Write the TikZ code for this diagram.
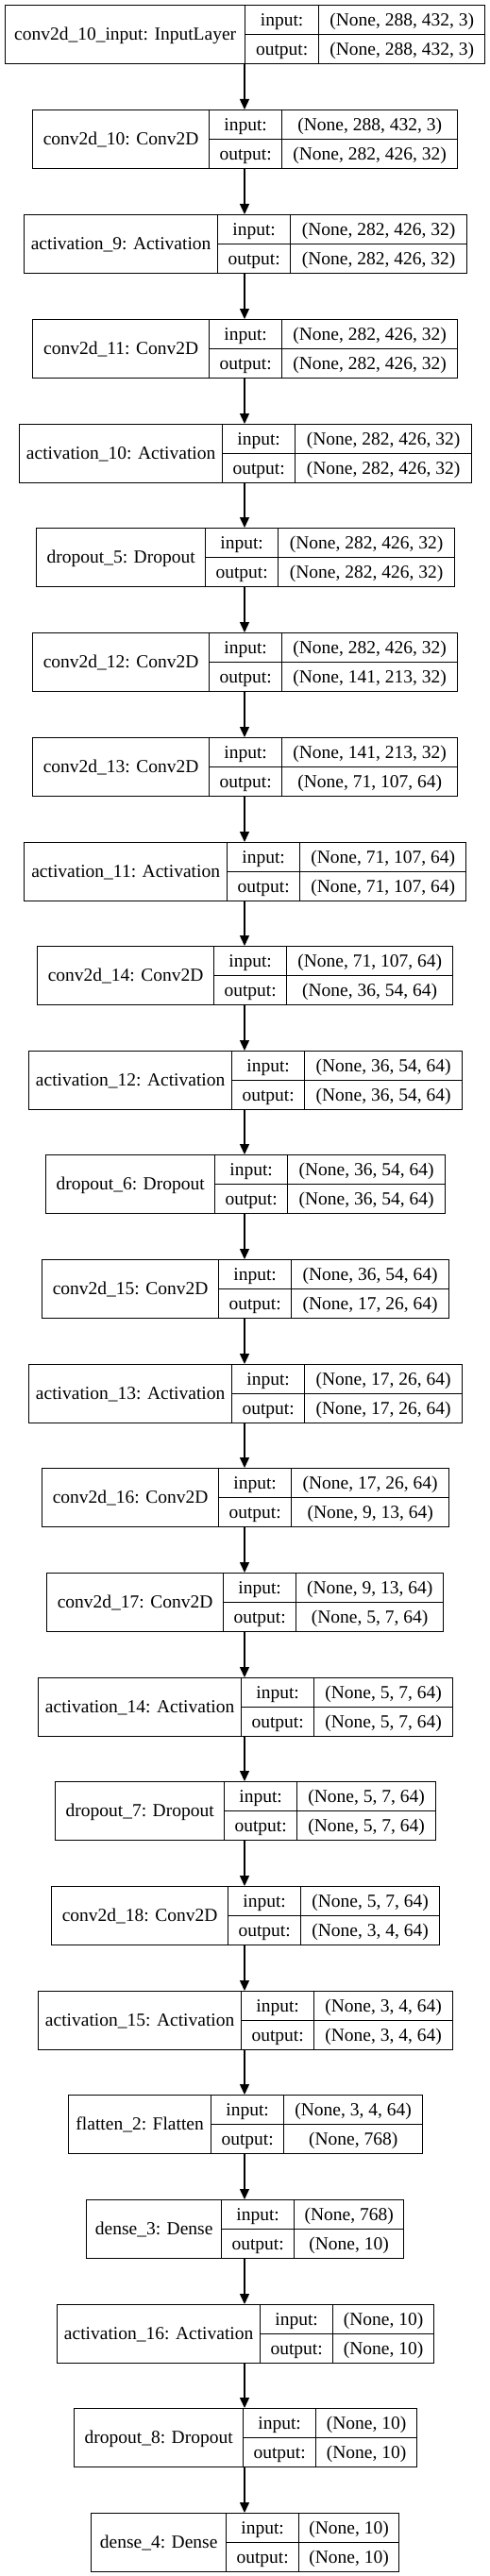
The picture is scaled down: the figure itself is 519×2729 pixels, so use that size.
\documentclass[tikz,border=0pt]{standalone}
\usepackage{fontspec}
\setmainfont{Liberation Serif}
\usetikzlibrary{arrows.meta}

\tikzset{
  cell/.style={draw, line width=1.3pt, inner sep=0pt, anchor=north west, text height=16pt, text depth=4pt},
  flow/.style={line width=1.3pt, -{Triangle[length=11pt,width=10pt]}}
}

% one layer record: name, top, left, split1, split2, right, label, input shape, output shape
\newcommand{\layer}[9]{%
  \pgfmathsetmacro\wlab{#4-#3}%
  \pgfmathsetmacro\wio{#5-#4}%
  \pgfmathsetmacro\wshp{#6-#5}%
  \node[cell, minimum width=\wlab pt, minimum height=62pt] (#1) at (#3,#2) {#7};
  \node[cell, minimum width=\wio pt, minimum height=31pt] (#1-i) at (#4,#2) {input:};
  \node[cell, minimum width=\wio pt, minimum height=31pt] (#1-o) at (#4,#2+31) {output:};
  \node[cell, minimum width=\wshp pt, minimum height=31pt] (#1-si) at (#5,#2) {#8};
  \node[cell, minimum width=\wshp pt, minimum height=31pt] (#1-so) at (#5,#2+31) {#9};
  \coordinate (#1-top) at (259,#2);
  \coordinate (#1-bot) at (259,#2+62);
}

\begin{document}
\begin{tikzpicture}[x=1pt, y=-1pt, font=\fontsize{19.5}{23}\selectfont]
\useasboundingbox (0,0) rectangle (519,2729);

\layer{in10}{5}{5}{259}{337}{513}{conv2d\_10\_input: InputLayer}{(None, 288, 432, 3)}{(None, 288, 432, 3)}
\layer{conv10}{116}{34}{221}{298}{484}{conv2d\_10: Conv2D}{(None, 288, 432, 3)}{(None, 282, 426, 32)}
\layer{act9}{227}{25}{230}{307}{494}{activation\_9: Activation}{(None, 282, 426, 32)}{(None, 282, 426, 32)}
\layer{conv11}{338}{34}{221}{298}{484}{conv2d\_11: Conv2D}{(None, 282, 426, 32)}{(None, 282, 426, 32)}
\layer{act10}{449}{20}{235}{312}{499}{activation\_10: Activation}{(None, 282, 426, 32)}{(None, 282, 426, 32)}
\layer{drop5}{559}{38}{217}{294}{481}{dropout\_5: Dropout}{(None, 282, 426, 32)}{(None, 282, 426, 32)}
\layer{conv12}{670}{34}{221}{298}{484}{conv2d\_12: Conv2D}{(None, 282, 426, 32)}{(None, 141, 213, 32)}
\layer{conv13}{781}{34}{221}{298}{484}{conv2d\_13: Conv2D}{(None, 141, 213, 32)}{(None, 71, 107, 64)}
\layer{act11}{892}{25}{240}{317}{493}{activation\_11: Activation}{(None, 71, 107, 64)}{(None, 71, 107, 64)}
\layer{conv14}{1002}{39}{226}{303}{479}{conv2d\_14: Conv2D}{(None, 71, 107, 64)}{(None, 36, 54, 64)}
\layer{act12}{1113}{30}{245}{322}{489}{activation\_12: Activation}{(None, 36, 54, 64)}{(None, 36, 54, 64)}
\layer{drop6}{1223}{48}{227}{304}{471}{dropout\_6: Dropout}{(None, 36, 54, 64)}{(None, 36, 54, 64)}
\layer{conv15}{1334}{44}{231}{308}{475}{conv2d\_15: Conv2D}{(None, 36, 54, 64)}{(None, 17, 26, 64)}
\layer{act13}{1445}{30}{245}{322}{489}{activation\_13: Activation}{(None, 17, 26, 64)}{(None, 17, 26, 64)}
\layer{conv16}{1555}{44}{231}{308}{475}{conv2d\_16: Conv2D}{(None, 17, 26, 64)}{(None, 9, 13, 64)}
\layer{conv17}{1666}{49}{236}{313}{469}{conv2d\_17: Conv2D}{(None, 9, 13, 64)}{(None, 5, 7, 64)}
\layer{act14}{1777}{40}{255}{332}{479}{activation\_14: Activation}{(None, 5, 7, 64)}{(None, 5, 7, 64)}
\layer{drop7}{1887}{58}{237}{314}{461}{dropout\_7: Dropout}{(None, 5, 7, 64)}{(None, 5, 7, 64)}
\layer{conv18}{1998}{54}{241}{318}{465}{conv2d\_18: Conv2D}{(None, 5, 7, 64)}{(None, 3, 4, 64)}
\layer{act15}{2109}{40}{255}{332}{479}{activation\_15: Activation}{(None, 3, 4, 64)}{(None, 3, 4, 64)}
\layer{flat2}{2219}{72}{223}{300}{447}{flatten\_2: Flatten}{(None, 3, 4, 64)}{(None, 768)}
\layer{dense3}{2330}{91}{234}{311}{427}{dense\_3: Dense}{(None, 768)}{(None, 10)}
\layer{act16}{2441}{60}{275}{352}{459}{activation\_16: Activation}{(None, 10)}{(None, 10)}
\layer{drop8}{2551}{78}{257}{334}{441}{dropout\_8: Dropout}{(None, 10)}{(None, 10)}
\layer{dense4}{2662}{96}{239}{316}{422}{dense\_4: Dense}{(None, 10)}{(None, 10)}

\draw[flow] (in10-bot) -- (conv10-top);
\draw[flow] (conv10-bot) -- (act9-top);
\draw[flow] (act9-bot) -- (conv11-top);
\draw[flow] (conv11-bot) -- (act10-top);
\draw[flow] (act10-bot) -- (drop5-top);
\draw[flow] (drop5-bot) -- (conv12-top);
\draw[flow] (conv12-bot) -- (conv13-top);
\draw[flow] (conv13-bot) -- (act11-top);
\draw[flow] (act11-bot) -- (conv14-top);
\draw[flow] (conv14-bot) -- (act12-top);
\draw[flow] (act12-bot) -- (drop6-top);
\draw[flow] (drop6-bot) -- (conv15-top);
\draw[flow] (conv15-bot) -- (act13-top);
\draw[flow] (act13-bot) -- (conv16-top);
\draw[flow] (conv16-bot) -- (conv17-top);
\draw[flow] (conv17-bot) -- (act14-top);
\draw[flow] (act14-bot) -- (drop7-top);
\draw[flow] (drop7-bot) -- (conv18-top);
\draw[flow] (conv18-bot) -- (act15-top);
\draw[flow] (act15-bot) -- (flat2-top);
\draw[flow] (flat2-bot) -- (dense3-top);
\draw[flow] (dense3-bot) -- (act16-top);
\draw[flow] (act16-bot) -- (drop8-top);
\draw[flow] (drop8-bot) -- (dense4-top);
\end{tikzpicture}
\end{document}
